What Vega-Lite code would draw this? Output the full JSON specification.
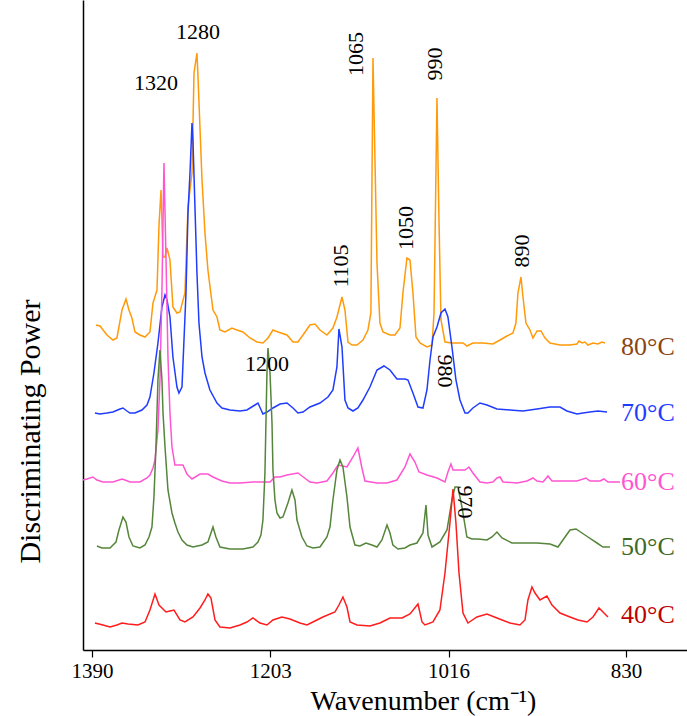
{
  "$schema": "https://vega.github.io/schema/vega-lite/v6.json",
  "width": 604,
  "height": 650,
  "autosize": {"type": "none"},
  "padding": {"left": 83, "top": 0, "right": 0, "bottom": 66},
  "config": {
    "view": {"stroke": null},
    "font": "Liberation Serif",
    "text": {"font": "Liberation Serif"},
    "axis": {"labelFont": "Liberation Serif", "titleFont": "Liberation Serif", "titleFontWeight": "normal", "labelColor": "black", "titleColor": "black", "domainColor": "black", "tickColor": "black", "grid": false}
  },
  "datasets": {
    "spectra": [
      {"t":"80°C","w":1385.8,"v":3.25},{"t":"80°C","w":1381.6,"v":3.24},{"t":"80°C","w":1374.3,"v":3.15},{"t":"80°C","w":1368.0,"v":3.10},{"t":"80°C","w":1363.8,"v":3.12},{"t":"80°C","w":1358.5,"v":3.40},{"t":"80°C","w":1354.3,"v":3.51},{"t":"80°C","w":1351.2,"v":3.40},{"t":"80°C","w":1348.1,"v":3.32},{"t":"80°C","w":1344.9,"v":3.18},{"t":"80°C","w":1339.7,"v":3.15},{"t":"80°C","w":1334.4,"v":3.13},{"t":"80°C","w":1329.2,"v":3.18},{"t":"80°C","w":1326.0,"v":3.47},{"t":"80°C","w":1321.8,"v":3.60},{"t":"80°C","w":1319.7,"v":4.25},{"t":"80°C","w":1317.6,"v":4.60},{"t":"80°C","w":1315.5,"v":3.93},{"t":"80°C","w":1313.4,"v":3.93},{"t":"80°C","w":1311.3,"v":4.02},{"t":"80°C","w":1308.2,"v":3.90},{"t":"80°C","w":1305.1,"v":3.43},{"t":"80°C","w":1300.9,"v":3.37},{"t":"80°C","w":1297.7,"v":3.38},{"t":"80°C","w":1292.5,"v":3.57},{"t":"80°C","w":1289.3,"v":4.43},{"t":"80°C","w":1285.1,"v":4.77},{"t":"80°C","w":1283.0,"v":5.77},{"t":"80°C","w":1279.9,"v":5.97},{"t":"80°C","w":1278.8,"v":5.73},{"t":"80°C","w":1274.6,"v":4.70},{"t":"80°C","w":1271.5,"v":4.17},{"t":"80°C","w":1268.4,"v":3.80},{"t":"80°C","w":1263.1,"v":3.40},{"t":"80°C","w":1258.9,"v":3.33},{"t":"80°C","w":1255.8,"v":3.20},{"t":"80°C","w":1250.5,"v":3.18},{"t":"80°C","w":1243.2,"v":3.22},{"t":"80°C","w":1237.9,"v":3.20},{"t":"80°C","w":1231.7,"v":3.18},{"t":"80°C","w":1224.3,"v":3.12},{"t":"80°C","w":1217.0,"v":3.08},{"t":"80°C","w":1210.7,"v":3.07},{"t":"80°C","w":1205.4,"v":3.12},{"t":"80°C","w":1200.2,"v":3.20},{"t":"80°C","w":1194.9,"v":3.18},{"t":"80°C","w":1185.5,"v":3.15},{"t":"80°C","w":1179.2,"v":3.08},{"t":"80°C","w":1174.0,"v":3.08},{"t":"80°C","w":1168.7,"v":3.15},{"t":"80°C","w":1161.4,"v":3.25},{"t":"80°C","w":1156.1,"v":3.26},{"t":"80°C","w":1150.9,"v":3.20},{"t":"80°C","w":1143.6,"v":3.15},{"t":"80°C","w":1137.3,"v":3.22},{"t":"80°C","w":1133.1,"v":3.33},{"t":"80°C","w":1127.8,"v":3.53},{"t":"80°C","w":1124.7,"v":3.40},{"t":"80°C","w":1121.5,"v":3.08},{"t":"80°C","w":1117.3,"v":3.05},{"t":"80°C","w":1112.1,"v":3.05},{"t":"80°C","w":1105.8,"v":3.10},{"t":"80°C","w":1100.6,"v":3.20},{"t":"80°C","w":1097.5,"v":3.37},{"t":"80°C","w":1095.3,"v":5.92},{"t":"80°C","w":1091.1,"v":3.87},{"t":"80°C","w":1088.0,"v":3.27},{"t":"80°C","w":1084.8,"v":3.18},{"t":"80°C","w":1077.5,"v":3.15},{"t":"80°C","w":1072.3,"v":3.15},{"t":"80°C","w":1067.0,"v":3.22},{"t":"80°C","w":1063.9,"v":3.57},{"t":"80°C","w":1059.7,"v":3.92},{"t":"80°C","w":1056.5,"v":3.90},{"t":"80°C","w":1053.4,"v":3.57},{"t":"80°C","w":1050.2,"v":3.13},{"t":"80°C","w":1046.0,"v":3.07},{"t":"80°C","w":1038.7,"v":3.03},{"t":"80°C","w":1033.4,"v":3.05},{"t":"80°C","w":1031.3,"v":3.37},{"t":"80°C","w":1028.2,"v":5.52},{"t":"80°C","w":1026.1,"v":4.30},{"t":"80°C","w":1024.0,"v":3.30},{"t":"80°C","w":1019.8,"v":3.08},{"t":"80°C","w":1012.5,"v":3.07},{"t":"80°C","w":1000.9,"v":3.07},{"t":"80°C","w":996.8,"v":3.04},{"t":"80°C","w":990.5,"v":3.07},{"t":"80°C","w":980.0,"v":3.07},{"t":"80°C","w":969.5,"v":3.06},{"t":"80°C","w":962.1,"v":3.10},{"t":"80°C","w":954.8,"v":3.14},{"t":"80°C","w":948.5,"v":3.17},{"t":"80°C","w":945.4,"v":3.27},{"t":"80°C","w":943.3,"v":3.57},{"t":"80°C","w":940.1,"v":3.73},{"t":"80°C","w":938.0,"v":3.53},{"t":"80°C","w":934.9,"v":3.27},{"t":"80°C","w":930.7,"v":3.20},{"t":"80°C","w":927.5,"v":3.12},{"t":"80°C","w":923.3,"v":3.19},{"t":"80°C","w":919.1,"v":3.19},{"t":"80°C","w":914.9,"v":3.12},{"t":"80°C","w":909.7,"v":3.07},{"t":"80°C","w":899.2,"v":3.05},{"t":"80°C","w":888.7,"v":3.05},{"t":"80°C","w":881.4,"v":3.06},{"t":"80°C","w":879.3,"v":3.09},{"t":"80°C","w":876.1,"v":3.07},{"t":"80°C","w":873.0,"v":3.08},{"t":"80°C","w":869.9,"v":3.05},{"t":"80°C","w":864.6,"v":3.07},{"t":"80°C","w":859.4,"v":3.06},{"t":"80°C","w":855.2,"v":3.08},{"t":"80°C","w":852.0,"v":3.07},

      {"t":"70°C","w":1386.9,"v":2.37},{"t":"70°C","w":1381.6,"v":2.36},{"t":"70°C","w":1374.3,"v":2.37},{"t":"70°C","w":1368.0,"v":2.38},{"t":"70°C","w":1360.6,"v":2.41},{"t":"70°C","w":1357.5,"v":2.42},{"t":"70°C","w":1353.3,"v":2.39},{"t":"70°C","w":1350.2,"v":2.37},{"t":"70°C","w":1344.9,"v":2.37},{"t":"70°C","w":1337.6,"v":2.40},{"t":"70°C","w":1332.3,"v":2.45},{"t":"70°C","w":1329.2,"v":2.53},{"t":"70°C","w":1325.0,"v":2.77},{"t":"70°C","w":1320.8,"v":3.07},{"t":"70°C","w":1316.6,"v":3.43},{"t":"70°C","w":1313.4,"v":3.55},{"t":"70°C","w":1311.3,"v":3.50},{"t":"70°C","w":1308.2,"v":3.33},{"t":"70°C","w":1305.1,"v":2.93},{"t":"70°C","w":1300.9,"v":2.63},{"t":"70°C","w":1298.8,"v":2.57},{"t":"70°C","w":1295.6,"v":2.63},{"t":"70°C","w":1293.5,"v":3.10},{"t":"70°C","w":1291.4,"v":3.57},{"t":"70°C","w":1289.3,"v":4.37},{"t":"70°C","w":1287.2,"v":4.77},{"t":"70°C","w":1285.1,"v":5.27},{"t":"70°C","w":1284.1,"v":5.10},{"t":"70°C","w":1282.0,"v":4.43},{"t":"70°C","w":1279.9,"v":3.77},{"t":"70°C","w":1277.8,"v":3.27},{"t":"70°C","w":1274.6,"v":2.93},{"t":"70°C","w":1271.5,"v":2.77},{"t":"70°C","w":1266.3,"v":2.60},{"t":"70°C","w":1258.9,"v":2.47},{"t":"70°C","w":1253.7,"v":2.42},{"t":"70°C","w":1245.3,"v":2.40},{"t":"70°C","w":1234.8,"v":2.39},{"t":"70°C","w":1227.5,"v":2.40},{"t":"70°C","w":1219.1,"v":2.45},{"t":"70°C","w":1215.9,"v":2.47},{"t":"70°C","w":1210.7,"v":2.36},{"t":"70°C","w":1206.5,"v":2.38},{"t":"70°C","w":1200.2,"v":2.42},{"t":"70°C","w":1192.8,"v":2.46},{"t":"70°C","w":1185.5,"v":2.47},{"t":"70°C","w":1179.2,"v":2.42},{"t":"70°C","w":1174.0,"v":2.37},{"t":"70°C","w":1168.7,"v":2.38},{"t":"70°C","w":1161.4,"v":2.43},{"t":"70°C","w":1150.9,"v":2.47},{"t":"70°C","w":1142.5,"v":2.53},{"t":"70°C","w":1137.3,"v":2.60},{"t":"70°C","w":1133.1,"v":2.83},{"t":"70°C","w":1131.0,"v":3.21},{"t":"70°C","w":1127.8,"v":3.03},{"t":"70°C","w":1124.7,"v":2.50},{"t":"70°C","w":1121.5,"v":2.42},{"t":"70°C","w":1116.3,"v":2.39},{"t":"70°C","w":1111.1,"v":2.42},{"t":"70°C","w":1105.8,"v":2.50},{"t":"70°C","w":1098.5,"v":2.63},{"t":"70°C","w":1091.1,"v":2.80},{"t":"70°C","w":1083.8,"v":2.84},{"t":"70°C","w":1077.5,"v":2.80},{"t":"70°C","w":1070.2,"v":2.71},{"t":"70°C","w":1061.8,"v":2.71},{"t":"70°C","w":1058.6,"v":2.70},{"t":"70°C","w":1053.4,"v":2.57},{"t":"70°C","w":1048.1,"v":2.43},{"t":"70°C","w":1042.9,"v":2.42},{"t":"70°C","w":1038.7,"v":2.60},{"t":"70°C","w":1035.5,"v":2.90},{"t":"70°C","w":1032.4,"v":3.13},{"t":"70°C","w":1028.2,"v":3.23},{"t":"70°C","w":1024.0,"v":3.37},{"t":"70°C","w":1019.8,"v":3.41},{"t":"70°C","w":1016.7,"v":3.33},{"t":"70°C","w":1012.5,"v":3.03},{"t":"70°C","w":1008.3,"v":2.70},{"t":"70°C","w":1004.1,"v":2.50},{"t":"70°C","w":998.8,"v":2.37},{"t":"70°C","w":995.7,"v":2.37},{"t":"70°C","w":990.5,"v":2.42},{"t":"70°C","w":983.1,"v":2.47},{"t":"70°C","w":975.8,"v":2.45},{"t":"70°C","w":965.3,"v":2.41},{"t":"70°C","w":951.7,"v":2.40},{"t":"70°C","w":938.0,"v":2.39},{"t":"70°C","w":923.3,"v":2.41},{"t":"70°C","w":909.7,"v":2.43},{"t":"70°C","w":899.2,"v":2.43},{"t":"70°C","w":891.9,"v":2.39},{"t":"70°C","w":881.4,"v":2.36},{"t":"70°C","w":875.1,"v":2.37},{"t":"70°C","w":867.8,"v":2.38},{"t":"70°C","w":859.4,"v":2.39},{"t":"70°C","w":849.9,"v":2.38},

      {"t":"60°C","w":1399.4,"v":1.70},{"t":"60°C","w":1395.2,"v":1.71},{"t":"60°C","w":1389.0,"v":1.73},{"t":"60°C","w":1384.8,"v":1.70},{"t":"60°C","w":1378.5,"v":1.68},{"t":"60°C","w":1368.0,"v":1.68},{"t":"60°C","w":1358.5,"v":1.71},{"t":"60°C","w":1355.4,"v":1.70},{"t":"60°C","w":1350.2,"v":1.68},{"t":"60°C","w":1339.7,"v":1.68},{"t":"60°C","w":1332.3,"v":1.72},{"t":"60°C","w":1329.2,"v":1.75},{"t":"60°C","w":1326.0,"v":1.82},{"t":"60°C","w":1323.9,"v":1.90},{"t":"60°C","w":1320.8,"v":2.20},{"t":"60°C","w":1318.7,"v":2.70},{"t":"60°C","w":1316.6,"v":3.60},{"t":"60°C","w":1314.5,"v":4.87},{"t":"60°C","w":1312.4,"v":3.93},{"t":"60°C","w":1310.3,"v":2.93},{"t":"60°C","w":1308.2,"v":2.37},{"t":"60°C","w":1306.1,"v":2.03},{"t":"60°C","w":1303.0,"v":1.85},{"t":"60°C","w":1294.6,"v":1.85},{"t":"60°C","w":1290.4,"v":1.76},{"t":"60°C","w":1285.1,"v":1.71},{"t":"60°C","w":1276.7,"v":1.76},{"t":"60°C","w":1268.4,"v":1.76},{"t":"60°C","w":1263.1,"v":1.73},{"t":"60°C","w":1253.7,"v":1.69},{"t":"60°C","w":1245.3,"v":1.67},{"t":"60°C","w":1234.8,"v":1.67},{"t":"60°C","w":1221.2,"v":1.68},{"t":"60°C","w":1203.3,"v":1.68},{"t":"60°C","w":1198.1,"v":1.73},{"t":"60°C","w":1192.8,"v":1.73},{"t":"60°C","w":1185.5,"v":1.75},{"t":"60°C","w":1174.0,"v":1.77},{"t":"60°C","w":1169.8,"v":1.74},{"t":"60°C","w":1161.4,"v":1.68},{"t":"60°C","w":1154.1,"v":1.67},{"t":"60°C","w":1143.6,"v":1.69},{"t":"60°C","w":1137.3,"v":1.77},{"t":"60°C","w":1132.0,"v":1.85},{"t":"60°C","w":1122.6,"v":1.83},{"t":"60°C","w":1116.3,"v":1.93},{"t":"60°C","w":1111.1,"v":2.02},{"t":"60°C","w":1106.9,"v":1.82},{"t":"60°C","w":1103.7,"v":1.69},{"t":"60°C","w":1091.1,"v":1.67},{"t":"60°C","w":1080.6,"v":1.67},{"t":"60°C","w":1070.2,"v":1.70},{"t":"60°C","w":1061.8,"v":1.83},{"t":"60°C","w":1056.5,"v":1.96},{"t":"60°C","w":1051.3,"v":1.88},{"t":"60°C","w":1047.1,"v":1.78},{"t":"60°C","w":1038.7,"v":1.75},{"t":"60°C","w":1028.2,"v":1.72},{"t":"60°C","w":1019.8,"v":1.68},{"t":"60°C","w":1016.7,"v":1.78},{"t":"60°C","w":1013.5,"v":1.86},{"t":"60°C","w":1011.4,"v":1.80},{"t":"60°C","w":1004.1,"v":1.80},{"t":"60°C","w":998.8,"v":1.80},{"t":"60°C","w":994.7,"v":1.83},{"t":"60°C","w":990.5,"v":1.77},{"t":"60°C","w":983.1,"v":1.68},{"t":"60°C","w":975.8,"v":1.67},{"t":"60°C","w":969.5,"v":1.68},{"t":"60°C","w":965.3,"v":1.72},{"t":"60°C","w":962.1,"v":1.73},{"t":"60°C","w":959.0,"v":1.68},{"t":"60°C","w":944.3,"v":1.67},{"t":"60°C","w":933.8,"v":1.69},{"t":"60°C","w":927.5,"v":1.72},{"t":"60°C","w":923.3,"v":1.69},{"t":"60°C","w":917.0,"v":1.68},{"t":"60°C","w":911.8,"v":1.74},{"t":"60°C","w":907.6,"v":1.69},{"t":"60°C","w":896.1,"v":1.69},{"t":"60°C","w":881.4,"v":1.69},{"t":"60°C","w":871.9,"v":1.72},{"t":"60°C","w":867.8,"v":1.69},{"t":"60°C","w":857.3,"v":1.69},{"t":"60°C","w":853.1,"v":1.71},{"t":"60°C","w":848.9,"v":1.68},{"t":"60°C","w":836.3,"v":1.68},

      {"t":"50°C","w":1384.8,"v":1.04},{"t":"50°C","w":1379.5,"v":1.02},{"t":"50°C","w":1371.1,"v":1.02},{"t":"50°C","w":1364.8,"v":1.08},{"t":"50°C","w":1361.7,"v":1.20},{"t":"50°C","w":1357.5,"v":1.33},{"t":"50°C","w":1354.3,"v":1.28},{"t":"50°C","w":1351.2,"v":1.13},{"t":"50°C","w":1347.0,"v":1.04},{"t":"50°C","w":1339.7,"v":1.02},{"t":"50°C","w":1334.4,"v":1.05},{"t":"50°C","w":1330.2,"v":1.13},{"t":"50°C","w":1327.1,"v":1.23},{"t":"50°C","w":1325.0,"v":1.53},{"t":"50°C","w":1322.9,"v":2.03},{"t":"50°C","w":1320.8,"v":2.70},{"t":"50°C","w":1318.7,"v":3.00},{"t":"50°C","w":1316.6,"v":2.70},{"t":"50°C","w":1315.5,"v":2.37},{"t":"50°C","w":1313.4,"v":2.03},{"t":"50°C","w":1310.3,"v":1.60},{"t":"50°C","w":1306.1,"v":1.37},{"t":"50°C","w":1303.0,"v":1.27},{"t":"50°C","w":1299.8,"v":1.18},{"t":"50°C","w":1295.6,"v":1.10},{"t":"50°C","w":1290.4,"v":1.05},{"t":"50°C","w":1284.1,"v":1.03},{"t":"50°C","w":1274.6,"v":1.05},{"t":"50°C","w":1268.4,"v":1.08},{"t":"50°C","w":1263.1,"v":1.23},{"t":"50°C","w":1260.0,"v":1.13},{"t":"50°C","w":1255.8,"v":1.03},{"t":"50°C","w":1245.3,"v":1.01},{"t":"50°C","w":1231.7,"v":1.01},{"t":"50°C","w":1221.2,"v":1.03},{"t":"50°C","w":1215.9,"v":1.08},{"t":"50°C","w":1212.8,"v":1.15},{"t":"50°C","w":1210.7,"v":1.30},{"t":"50°C","w":1208.6,"v":1.77},{"t":"50°C","w":1206.5,"v":2.77},{"t":"50°C","w":1205.4,"v":3.02},{"t":"50°C","w":1203.3,"v":2.77},{"t":"50°C","w":1201.2,"v":2.27},{"t":"50°C","w":1200.2,"v":1.80},{"t":"50°C","w":1198.1,"v":1.50},{"t":"50°C","w":1196.0,"v":1.37},{"t":"50°C","w":1192.8,"v":1.32},{"t":"50°C","w":1189.7,"v":1.33},{"t":"50°C","w":1184.5,"v":1.47},{"t":"50°C","w":1180.3,"v":1.60},{"t":"50°C","w":1177.1,"v":1.50},{"t":"50°C","w":1175.0,"v":1.30},{"t":"50°C","w":1169.8,"v":1.13},{"t":"50°C","w":1164.5,"v":1.04},{"t":"50°C","w":1158.2,"v":1.02},{"t":"50°C","w":1150.9,"v":1.03},{"t":"50°C","w":1143.6,"v":1.13},{"t":"50°C","w":1140.4,"v":1.23},{"t":"50°C","w":1137.3,"v":1.50},{"t":"50°C","w":1133.1,"v":1.80},{"t":"50°C","w":1129.9,"v":1.90},{"t":"50°C","w":1126.8,"v":1.83},{"t":"50°C","w":1122.6,"v":1.53},{"t":"50°C","w":1119.4,"v":1.23},{"t":"50°C","w":1114.2,"v":1.05},{"t":"50°C","w":1109.0,"v":1.04},{"t":"50°C","w":1102.7,"v":1.07},{"t":"50°C","w":1096.4,"v":1.05},{"t":"50°C","w":1091.1,"v":1.03},{"t":"50°C","w":1085.9,"v":1.10},{"t":"50°C","w":1080.6,"v":1.25},{"t":"50°C","w":1077.5,"v":1.17},{"t":"50°C","w":1074.4,"v":1.05},{"t":"50°C","w":1069.1,"v":1.01},{"t":"50°C","w":1061.8,"v":1.02},{"t":"50°C","w":1056.5,"v":1.05},{"t":"50°C","w":1049.2,"v":1.07},{"t":"50°C","w":1042.9,"v":1.17},{"t":"50°C","w":1039.7,"v":1.45},{"t":"50°C","w":1037.6,"v":1.15},{"t":"50°C","w":1033.4,"v":1.03},{"t":"50°C","w":1025.1,"v":1.08},{"t":"50°C","w":1017.7,"v":1.20},{"t":"50°C","w":1012.5,"v":1.50},{"t":"50°C","w":1009.3,"v":1.63},{"t":"50°C","w":1006.2,"v":1.63},{"t":"50°C","w":1002.0,"v":1.43},{"t":"50°C","w":996.8,"v":1.13},{"t":"50°C","w":991.5,"v":1.11},{"t":"50°C","w":985.2,"v":1.11},{"t":"50°C","w":975.8,"v":1.10},{"t":"50°C","w":970.5,"v":1.13},{"t":"50°C","w":965.3,"v":1.18},{"t":"50°C","w":960.0,"v":1.12},{"t":"50°C","w":949.6,"v":1.07},{"t":"50°C","w":938.0,"v":1.07},{"t":"50°C","w":923.3,"v":1.07},{"t":"50°C","w":909.7,"v":1.06},{"t":"50°C","w":901.3,"v":1.03},{"t":"50°C","w":896.1,"v":1.10},{"t":"50°C","w":888.7,"v":1.20},{"t":"50°C","w":882.4,"v":1.21},{"t":"50°C","w":876.1,"v":1.17},{"t":"50°C","w":869.9,"v":1.13},{"t":"50°C","w":860.4,"v":1.07},{"t":"50°C","w":854.1,"v":1.03},{"t":"50°C","w":846.8,"v":1.03},

      {"t":"40°C","w":1386.9,"v":0.27},{"t":"40°C","w":1378.5,"v":0.25},{"t":"40°C","w":1371.1,"v":0.23},{"t":"40°C","w":1363.8,"v":0.25},{"t":"40°C","w":1358.5,"v":0.27},{"t":"40°C","w":1352.2,"v":0.26},{"t":"40°C","w":1341.8,"v":0.25},{"t":"40°C","w":1334.4,"v":0.28},{"t":"40°C","w":1329.2,"v":0.40},{"t":"40°C","w":1323.9,"v":0.56},{"t":"40°C","w":1319.7,"v":0.45},{"t":"40°C","w":1312.4,"v":0.38},{"t":"40°C","w":1308.2,"v":0.39},{"t":"40°C","w":1304.0,"v":0.40},{"t":"40°C","w":1297.7,"v":0.30},{"t":"40°C","w":1292.5,"v":0.28},{"t":"40°C","w":1284.1,"v":0.33},{"t":"40°C","w":1276.7,"v":0.42},{"t":"40°C","w":1271.5,"v":0.50},{"t":"40°C","w":1268.4,"v":0.56},{"t":"40°C","w":1265.2,"v":0.52},{"t":"40°C","w":1261.0,"v":0.30},{"t":"40°C","w":1255.8,"v":0.23},{"t":"40°C","w":1245.3,"v":0.22},{"t":"40°C","w":1234.8,"v":0.25},{"t":"40°C","w":1227.5,"v":0.28},{"t":"40°C","w":1221.2,"v":0.32},{"t":"40°C","w":1213.8,"v":0.27},{"t":"40°C","w":1206.5,"v":0.25},{"t":"40°C","w":1200.2,"v":0.30},{"t":"40°C","w":1190.8,"v":0.33},{"t":"40°C","w":1182.4,"v":0.31},{"t":"40°C","w":1171.9,"v":0.27},{"t":"40°C","w":1164.5,"v":0.25},{"t":"40°C","w":1154.1,"v":0.30},{"t":"40°C","w":1147.8,"v":0.33},{"t":"40°C","w":1135.2,"v":0.38},{"t":"40°C","w":1131.0,"v":0.45},{"t":"40°C","w":1126.8,"v":0.53},{"t":"40°C","w":1122.6,"v":0.43},{"t":"40°C","w":1119.4,"v":0.28},{"t":"40°C","w":1112.1,"v":0.25},{"t":"40°C","w":1098.5,"v":0.24},{"t":"40°C","w":1088.0,"v":0.27},{"t":"40°C","w":1077.5,"v":0.32},{"t":"40°C","w":1064.9,"v":0.32},{"t":"40°C","w":1056.5,"v":0.36},{"t":"40°C","w":1048.1,"v":0.46},{"t":"40°C","w":1043.9,"v":0.28},{"t":"40°C","w":1040.8,"v":0.25},{"t":"40°C","w":1032.4,"v":0.28},{"t":"40°C","w":1025.1,"v":0.40},{"t":"40°C","w":1019.8,"v":0.77},{"t":"40°C","w":1014.6,"v":1.27},{"t":"40°C","w":1011.4,"v":1.61},{"t":"40°C","w":1008.3,"v":1.27},{"t":"40°C","w":1005.1,"v":0.77},{"t":"40°C","w":1000.9,"v":0.37},{"t":"40°C","w":995.7,"v":0.27},{"t":"40°C","w":986.3,"v":0.33},{"t":"40°C","w":975.8,"v":0.36},{"t":"40°C","w":965.3,"v":0.32},{"t":"40°C","w":951.7,"v":0.27},{"t":"40°C","w":941.2,"v":0.25},{"t":"40°C","w":935.9,"v":0.30},{"t":"40°C","w":932.8,"v":0.50},{"t":"40°C","w":928.6,"v":0.63},{"t":"40°C","w":925.4,"v":0.57},{"t":"40°C","w":920.2,"v":0.50},{"t":"40°C","w":912.9,"v":0.54},{"t":"40°C","w":907.6,"v":0.45},{"t":"40°C","w":899.2,"v":0.37},{"t":"40°C","w":888.7,"v":0.33},{"t":"40°C","w":880.3,"v":0.30},{"t":"40°C","w":870.9,"v":0.28},{"t":"40°C","w":864.6,"v":0.33},{"t":"40°C","w":858.3,"v":0.42},{"t":"40°C","w":854.1,"v":0.38},{"t":"40°C","w":848.9,"v":0.33}
    ],
    "temps": [
      {"t":"80°C","w":807,"v":3.03},
      {"t":"70°C","w":807,"v":2.37},
      {"t":"60°C","w":807,"v":1.68},
      {"t":"50°C","w":807,"v":1.03},
      {"t":"40°C","w":807,"v":0.35}
    ],
    "peaksFlat": [
      {"peak":"1320","w":1322.9,"v":5.67},
      {"peak":"1280","w":1278.8,"v":6.18},
      {"peak":"1200","w":1206.5,"v":2.86}
    ],
    "peaksUp": [
      {"peak":"1065","w":1113.2,"v":5.96},
      {"peak":"990","w":1030.3,"v":5.86},
      {"peak":"1050","w":1060.7,"v":4.22},
      {"peak":"1105","w":1128.9,"v":3.84},
      {"peak":"890","w":939.1,"v":3.99}
    ],
    "peaksDown": [
      {"peak":"980","w":1019.8,"v":2.79},
      {"peak":"970","w":998.9,"v":1.48}
    ]
  },
  "layer": [
    {
      "data": {"name": "spectra"},
      "mark": {"type": "line", "strokeWidth": 1.5, "interpolate": "linear"},
      "encoding": {
        "x": {
          "field": "w", "type": "quantitative",
          "scale": {"domain": [766, 1399.4], "reverse": true, "nice": false, "zero": false},
          "axis": {"values": [1390, 1203, 1016, 830], "format": "d", "title": "Wavenumber (cm⁻¹)", "labelFont": "Liberation Serif", "titleFont": "Liberation Serif", "labelFontSize": 21, "titleFontSize": 28, "tickSize": 7, "tickWidth": 1.2, "domainWidth": 1.5, "labelPadding": 3, "titlePadding": 6, "titleX": 340, "titleAnchor": null, "titleAlign": "center", "labelFlush": false, "labelOverlap": false}
        },
        "y": {
          "field": "v", "type": "quantitative",
          "scale": {"domain": [0, 6.5], "nice": false, "zero": false},
          "axis": {"title": "Discriminating Power", "labels": false, "ticks": false, "domainWidth": 1.5, "titleFont": "Liberation Serif", "titleFontSize": 30, "titlePadding": 38, "titleY": 431, "titleAnchor": null, "titleAlign": "center"}
        },
        "color": {
          "field": "t", "type": "nominal", "legend": null,
          "scale": {"domain": ["80°C", "70°C", "60°C", "50°C", "40°C"], "range": ["#ff9a0a", "#1f3cff", "#ff55d2", "#55853a", "#ff1c1c"]}
        }
      }
    },
    {
      "data": {"name": "temps"},
      "mark": {"type": "text", "font": "Liberation Serif", "fontSize": 26, "align": "center", "baseline": "middle"},
      "encoding": {
        "x": {"field": "w", "type": "quantitative"},
        "y": {"field": "v", "type": "quantitative"},
        "text": {"field": "t"},
        "color": {
          "field": "t", "type": "nominal", "legend": null,
          "scale": {"domain": ["80°C", "70°C", "60°C", "50°C", "40°C"], "range": ["#8b4513", "#1f3cff", "#ff55d2", "#3f6a28", "#c00000"]}
        }
      }
    },
    {
      "data": {"name": "peaksFlat"},
      "mark": {"type": "text", "font": "Liberation Serif", "fontSize": 22, "align": "center", "baseline": "middle", "color": "black"},
      "encoding": {
        "x": {"field": "w", "type": "quantitative"},
        "y": {"field": "v", "type": "quantitative"},
        "text": {"field": "peak"}
      }
    },
    {
      "data": {"name": "peaksUp"},
      "mark": {"type": "text", "font": "Liberation Serif", "fontSize": 22, "align": "center", "baseline": "middle", "angle": 270, "color": "black"},
      "encoding": {
        "x": {"field": "w", "type": "quantitative"},
        "y": {"field": "v", "type": "quantitative"},
        "text": {"field": "peak"}
      }
    },
    {
      "data": {"name": "peaksDown"},
      "mark": {"type": "text", "font": "Liberation Serif", "fontSize": 22, "align": "center", "baseline": "middle", "angle": 90, "color": "black"},
      "encoding": {
        "x": {"field": "w", "type": "quantitative"},
        "y": {"field": "v", "type": "quantitative"},
        "text": {"field": "peak"}
      }
    }
  ],
  "resolve": {"scale": {"color": "independent"}}
}
